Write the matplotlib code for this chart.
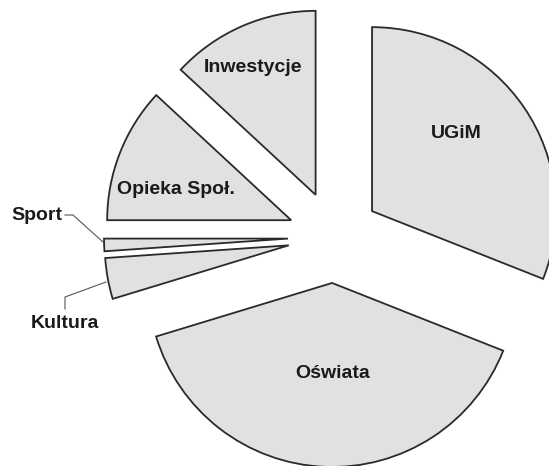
import matplotlib
matplotlib.use("Agg")
import matplotlib.pyplot as plt

# Data (shares in %)
categories = ["UGiM", "Oświata", "Kultura", "Sport", "Opieka Społ.", "Inwestycje"]
values = [31.0, 39.3, 3.6, 1.1, 11.9, 13.1]

W, H = 549, 466
SCALE = 184.0          # pixels per unit radius
CX, CY = 334.0, 237.0  # pie centre in pixels (from top-left)


def px(x, y):
    """pixel position (from top-left) -> data coordinates"""
    return (x - CX) / SCALE, (CY - y) / SCALE


fig = plt.figure(figsize=(W / 100, H / 100), dpi=100)
ax = fig.add_axes([0, 0, 1, 1])

wedges, _ = ax.pie(
    values,
    startangle=90,
    counterclock=False,
    explode=[0.25] * len(values),
    radius=1.0,
    center=(0, 0),
    colors=["#e1e1e1"] * len(values),
    wedgeprops=dict(edgecolor="#2a2a2a", linewidth=1.3),
)

x0, y0 = px(0, 0)
x1, y1 = px(W, H)
ax.set_xlim(x0, x1)
ax.set_ylim(y1, y0)
ax.set_aspect("auto")
ax.axis("off")

font = dict(family=["Liberation Sans", "DejaVu Sans"], fontweight="bold",
            fontsize=14, color="#1a1a1a", ha="center", va="center")

label_pos = {
    "UGiM": (456, 133),
    "Oświata": (333, 373),
    "Opieka Społ.": (176, 190),
    "Inwestycje": (253, 67),
    "Sport": (37, 215),
    "Kultura": (65, 323),
}
for name in categories:
    x, y = px(*label_pos[name])
    ax.text(x, y, name, **font)

# leader lines
sport_line = [(65, 215), (73, 215), (103, 242)]
kultura_line = [(106, 282), (65, 297), (65, 309)]
for line in (sport_line, kultura_line):
    pts = [px(a, b) for a, b in line]
    ax.plot([p[0] for p in pts], [p[1] for p in pts], color="#555555", lw=0.8)

fig.savefig("out.png", dpi=100, facecolor="white")
